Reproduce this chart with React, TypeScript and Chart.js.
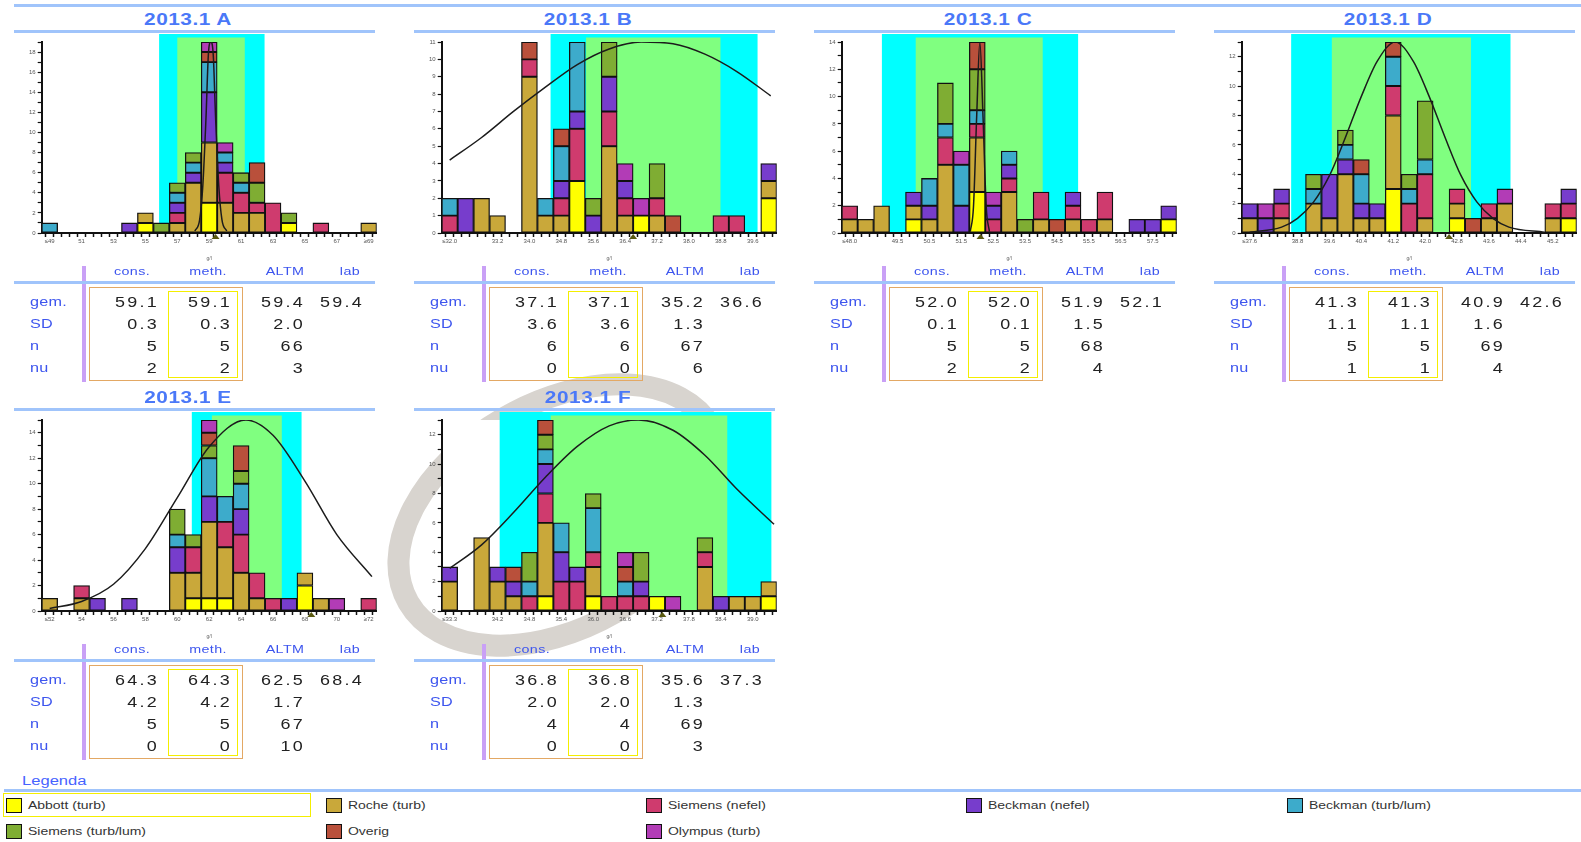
import React, { useEffect, useRef } from 'react';
import { Chart, registerables } from 'chart.js';
Chart.register(...registerables);
Chart.defaults.font.family = '"Liberation Sans", Arial, sans-serif';

// ---------- legend / series ----------
const SERIES_NAMES = ['Abbott (turb)', 'Roche (turb)', 'Siemens (nefel)', 'Beckman (nefel)', 'Beckman (turb/lum)', 'Siemens (turb/lum)', 'Overig', 'Olympus (turb)'];
const SERIES_COLORS = ['#ffff00', '#c9a83a', '#cf3b6e', '#773dcc', '#3dabcb', '#7fad33', '#b9503b', '#b23cb6'];

const STAT_COLS = ['cons.', 'meth.', 'ALTM', 'lab'];
const STAT_ROWS = ['gem.', 'SD', 'n', 'nu'];

// ---------- Panel A ----------
const binsA = [49, 50, 51, 52, 53, 54, 55, 56, 57, 58, 59, 60, 61, 62, 63, 64, 65, 66, 67, 68, 69];
const countsA = [
  [0, 0, 0, 0, 0, 0, 1, 0, 0, 0, 3, 0, 0, 0, 0, 1, 0, 0, 0, 0, 0],
  [0, 0, 0, 0, 0, 0, 1, 0, 1, 5, 6, 3, 2, 2, 0, 0, 0, 0, 0, 0, 1],
  [0, 0, 0, 0, 0, 0, 0, 0, 1, 0, 0, 3, 2, 1, 3, 0, 0, 1, 0, 0, 0],
  [0, 0, 0, 0, 0, 1, 0, 0, 1, 1, 5, 1, 0, 0, 0, 0, 0, 0, 0, 0, 0],
  [1, 0, 0, 0, 0, 0, 0, 0, 1, 1, 3, 1, 1, 0, 0, 0, 0, 0, 0, 0, 0],
  [0, 0, 0, 0, 0, 0, 0, 1, 1, 1, 0, 0, 1, 2, 0, 1, 0, 0, 0, 0, 0],
  [0, 0, 0, 0, 0, 0, 0, 0, 0, 0, 1, 0, 0, 2, 0, 0, 0, 0, 0, 0, 0],
  [0, 0, 0, 0, 0, 0, 0, 0, 0, 0, 1, 1, 0, 0, 0, 0, 0, 0, 0, 0, 0],
];
const curveXA = [58.1, 58.4, 58.6, 58.8, 58.95, 59.1, 59.25, 59.4, 59.6, 59.8, 60.1];
const curveYA = [0.2, 1.3, 4.7, 11.5, 17.8, 19, 17.8, 11.5, 4.7, 1.3, 0.2];
const bandsA = [55.86, 62.47, 57.0, 61.23];
const xLabelValsA = [49, 51, 53, 55, 57, 59, 61, 63, 65, 67, 69];
const xLabelTextA = ['≤49', '51', '53', '55', '57', '59', '61', '63', '65', '67', '≥69'];
const gemA = ['59.1', '59.1', '59.4', '59.4'];
const sdA = ['0.3', '0.3', '2.0', ''];
const nA = ['5', '5', '66', ''];
const nuA = ['2', '2', '3', ''];

// ---------- Panel B ----------
const binsB = [32.0, 32.4, 32.8, 33.2, 33.6, 34.0, 34.4, 34.8, 35.2, 35.6, 36.0, 36.4, 36.8, 37.2, 37.6, 38.0, 38.4, 38.8, 39.2, 39.6, 40.0];
const countsB = [
  [0, 0, 0, 0, 0, 0, 0, 0, 3, 0, 0, 0, 1, 0, 0, 0, 0, 0, 0, 0, 2],
  [0, 0, 2, 1, 0, 9, 1, 1, 0, 0, 5, 1, 0, 1, 0, 0, 0, 0, 0, 0, 1],
  [1, 0, 0, 0, 0, 1, 0, 1, 3, 0, 2, 1, 0, 1, 0, 0, 0, 1, 1, 0, 0],
  [0, 2, 0, 0, 0, 0, 0, 1, 1, 1, 2, 1, 0, 0, 0, 0, 0, 0, 0, 0, 1],
  [1, 0, 0, 0, 0, 0, 1, 2, 4, 0, 0, 0, 0, 0, 0, 0, 0, 0, 0, 0, 0],
  [0, 0, 0, 0, 0, 0, 0, 0, 0, 1, 2, 0, 0, 2, 0, 0, 0, 0, 0, 0, 0],
  [0, 0, 0, 0, 0, 1, 0, 1, 0, 0, 0, 0, 0, 0, 1, 0, 0, 0, 0, 0, 0],
  [0, 0, 0, 0, 0, 0, 0, 0, 0, 0, 0, 1, 1, 0, 0, 0, 0, 0, 0, 0, 0],
];
const curveXB = [32.0, 32.8, 33.6, 34.4, 35.2, 36.0, 36.8, 37.6, 38.4, 39.2, 40.05];
const curveYB = [4.2, 5.5, 7.0, 8.4, 9.7, 10.6, 11.0, 10.9, 10.3, 9.3, 7.9];
const bandsB = [34.53, 39.72, 35.42, 38.79];
const xLabelValsB = [32.0, 33.2, 34.0, 34.8, 35.6, 36.4, 37.2, 38.0, 38.8, 39.6];
const xLabelTextB = ['≤32.0', '33.2', '34.0', '34.8', '35.6', '36.4', '37.2', '38.0', '38.8', '39.6'];
const gemB = ['37.1', '37.1', '35.2', '36.6'];
const sdB = ['3.6', '3.6', '1.3', ''];
const nB = ['6', '6', '67', ''];
const nuB = ['0', '0', '6', ''];

// ---------- Panel C ----------
const binsC = [48.0, 48.5, 49.0, 49.5, 50.0, 50.5, 51.0, 51.5, 52.0, 52.5, 53.0, 53.5, 54.0, 54.5, 55.0, 55.5, 56.0, 56.5, 57.0, 57.5, 58.0];
const countsC = [
  [0, 0, 0, 0, 1, 0, 0, 0, 3, 0, 0, 0, 0, 0, 0, 0, 0, 0, 0, 0, 1],
  [1, 1, 2, 0, 1, 1, 5, 0, 4, 0, 3, 0, 1, 0, 1, 0, 1, 0, 0, 0, 0],
  [1, 0, 0, 0, 0, 0, 2, 0, 1, 1, 1, 0, 2, 0, 1, 1, 2, 0, 0, 0, 0],
  [0, 0, 0, 0, 1, 1, 0, 2, 0, 1, 1, 0, 0, 0, 1, 0, 0, 0, 1, 1, 1],
  [0, 0, 0, 0, 0, 2, 1, 3, 1, 0, 1, 0, 0, 0, 0, 0, 0, 0, 0, 0, 0],
  [0, 0, 0, 0, 0, 0, 3, 0, 3, 0, 0, 1, 0, 0, 0, 0, 0, 0, 0, 0, 0],
  [0, 0, 0, 0, 0, 0, 0, 0, 2, 0, 0, 0, 0, 1, 0, 0, 0, 0, 0, 0, 0],
  [0, 0, 0, 0, 0, 0, 0, 1, 0, 1, 0, 0, 0, 0, 0, 0, 0, 0, 0, 0, 0],
];
const curveXC = [51.78, 51.88, 51.98, 52.08, 52.18, 52.28, 52.38];
const curveYC = [0.1, 1.9, 8.5, 14, 8.5, 1.9, 0.1];
const bandsC = [49.01, 55.16, 50.07, 54.05];
const xLabelValsC = [48.0, 49.5, 50.5, 51.5, 52.5, 53.5, 54.5, 55.5, 56.5, 57.5];
const xLabelTextC = ['≤48.0', '49.5', '50.5', '51.5', '52.5', '53.5', '54.5', '55.5', '56.5', '57.5'];
const gemC = ['52.0', '52.0', '51.9', '52.1'];
const sdC = ['0.1', '0.1', '1.5', ''];
const nC = ['5', '5', '68', ''];
const nuC = ['2', '2', '4', ''];

// ---------- Panel D ----------
const binsD = [37.6, 38.0, 38.4, 38.8, 39.2, 39.6, 40.0, 40.4, 40.8, 41.2, 41.6, 42.0, 42.4, 42.8, 43.2, 43.6, 44.0, 44.4, 44.8, 45.2, 45.6];
const countsD = [
  [0, 0, 0, 0, 0, 0, 0, 0, 0, 3, 0, 0, 0, 1, 0, 0, 0, 0, 0, 0, 1],
  [1, 0, 1, 0, 2, 1, 4, 1, 1, 5, 0, 1, 0, 1, 0, 1, 2, 0, 0, 1, 0],
  [0, 0, 1, 0, 0, 0, 0, 0, 0, 2, 2, 3, 0, 1, 0, 1, 0, 0, 0, 1, 1],
  [1, 1, 1, 0, 0, 3, 1, 1, 1, 0, 0, 0, 0, 0, 0, 0, 0, 0, 0, 0, 1],
  [0, 0, 0, 0, 1, 0, 1, 2, 0, 2, 1, 1, 0, 0, 0, 0, 0, 0, 0, 0, 0],
  [0, 0, 0, 0, 1, 0, 1, 0, 0, 0, 1, 4, 0, 0, 0, 0, 0, 0, 0, 0, 0],
  [0, 0, 0, 0, 0, 0, 0, 1, 0, 1, 0, 0, 0, 0, 1, 0, 0, 0, 0, 0, 0],
  [0, 1, 0, 0, 0, 0, 0, 0, 0, 0, 0, 0, 0, 0, 0, 0, 1, 0, 0, 0, 0],
];
const curveXD = [37.6, 38.4, 38.8, 39.2, 39.6, 40.0, 40.4, 40.8, 41.25, 41.7, 42.1, 42.5, 42.9, 43.3, 43.7, 44.1, 45.0];
const curveYD = [0.05, 0.4, 1.0, 2.1, 3.9, 6.5, 9.3, 11.7, 13, 11.7, 9.3, 6.5, 3.9, 2.1, 1.0, 0.4, 0.05];
const bandsD = [38.64, 44.14, 39.66, 43.15];
const xLabelValsD = [37.6, 38.8, 39.6, 40.4, 41.2, 42.0, 42.8, 43.6, 44.4, 45.2];
const xLabelTextD = ['≤37.6', '38.8', '39.6', '40.4', '41.2', '42.0', '42.8', '43.6', '44.4', '45.2'];
const gemD = ['41.3', '41.3', '40.9', '42.6'];
const sdD = ['1.1', '1.1', '1.6', ''];
const nD = ['5', '5', '69', ''];
const nuD = ['1', '1', '4', ''];

// ---------- Panel E ----------
const binsE = [52, 53, 54, 55, 56, 57, 58, 59, 60, 61, 62, 63, 64, 65, 66, 67, 68, 69, 70, 71, 72];
const countsE = [
  [0, 0, 0, 0, 0, 0, 0, 0, 0, 1, 1, 1, 0, 0, 0, 0, 2, 0, 0, 0, 0],
  [1, 0, 1, 0, 0, 0, 0, 0, 3, 2, 6, 4, 3, 1, 0, 0, 1, 1, 0, 0, 0],
  [0, 0, 1, 0, 0, 0, 0, 0, 0, 2, 0, 2, 3, 2, 1, 0, 0, 0, 0, 0, 1],
  [0, 0, 0, 1, 0, 1, 0, 0, 2, 0, 2, 0, 2, 0, 0, 1, 0, 0, 0, 0, 0],
  [0, 0, 0, 0, 0, 0, 0, 0, 1, 0, 3, 2, 2, 0, 0, 0, 0, 0, 0, 0, 0],
  [0, 0, 0, 0, 0, 0, 0, 0, 2, 1, 1, 0, 1, 0, 0, 0, 0, 0, 0, 0, 0],
  [0, 0, 0, 0, 0, 0, 0, 0, 0, 0, 1, 0, 2, 0, 0, 0, 0, 0, 0, 0, 0],
  [0, 0, 0, 0, 0, 0, 0, 0, 0, 0, 1, 0, 0, 0, 0, 0, 0, 0, 1, 0, 0],
];
const curveXE = [52.0, 54, 56, 58, 60, 62, 64.3, 66, 68, 70, 72.2];
const curveYE = [0.2, 0.75, 2.1, 4.9, 8.9, 12.9, 15, 13.8, 10.2, 6.0, 2.7];
const bandsE = [60.91, 67.79, 62.17, 66.55];
const xLabelValsE = [52, 54, 56, 58, 60, 62, 64, 66, 68, 70, 72];
const xLabelTextE = ['≤52', '54', '56', '58', '60', '62', '64', '66', '68', '70', '≥72'];
const gemE = ['64.3', '64.3', '62.5', '68.4'];
const sdE = ['4.2', '4.2', '1.7', ''];
const nE = ['5', '5', '67', ''];
const nuE = ['0', '0', '10', ''];

// ---------- Panel F ----------
const binsF = [33.3, 33.6, 33.9, 34.2, 34.5, 34.8, 35.1, 35.4, 35.7, 36.0, 36.3, 36.6, 36.9, 37.2, 37.5, 37.8, 38.1, 38.4, 38.7, 39.0, 39.3];
const countsF = [
  [0, 0, 0, 0, 0, 0, 1, 0, 0, 1, 0, 0, 0, 1, 0, 0, 0, 0, 0, 0, 1],
  [2, 0, 5, 2, 1, 0, 5, 0, 0, 2, 0, 0, 0, 0, 0, 0, 3, 0, 1, 1, 1],
  [0, 0, 0, 0, 0, 1, 2, 2, 2, 1, 1, 1, 1, 0, 0, 0, 1, 0, 0, 0, 0],
  [1, 0, 0, 1, 1, 0, 2, 2, 1, 0, 0, 0, 1, 0, 0, 0, 0, 1, 0, 0, 0],
  [0, 0, 0, 0, 0, 1, 1, 2, 0, 3, 0, 1, 0, 0, 0, 0, 0, 0, 0, 0, 0],
  [0, 0, 0, 0, 0, 2, 1, 0, 0, 1, 0, 0, 2, 0, 0, 0, 1, 0, 0, 0, 0],
  [0, 0, 0, 0, 1, 0, 1, 0, 0, 0, 0, 1, 0, 0, 0, 0, 0, 0, 0, 0, 0],
  [0, 0, 0, 0, 0, 0, 0, 0, 0, 0, 0, 1, 0, 0, 1, 0, 0, 0, 0, 0, 0],
];
const curveXF = [33.3, 33.9, 34.5, 35.1, 35.7, 36.3, 36.85, 37.5, 38.1, 38.7, 39.4];
const curveYF = [2.9, 4.5, 6.7, 9.1, 11.2, 12.6, 13, 12.3, 10.6, 8.3, 5.9];
const bandsF = [34.24, 39.35, 35.2, 38.52];
const xLabelValsF = [33.3, 34.2, 34.8, 35.4, 36.0, 36.6, 37.2, 37.8, 38.4, 39.0];
const xLabelTextF = ['≤33.3', '34.2', '34.8', '35.4', '36.0', '36.6', '37.2', '37.8', '38.4', '39.0'];
const gemF = ['36.8', '36.8', '35.6', '37.3'];
const sdF = ['2.0', '2.0', '1.3', ''];
const nF = ['4', '4', '69', ''];
const nuF = ['0', '0', '3', ''];

type Panel = {
  title: string; col: number; row: number; bins: number[]; counts: number[][];
  cx: number[]; cy: number[]; bands: number[]; lv: number[]; lt: string[];
  yLabelStep: number; stats: string[][];
};

const PANELS: Panel[] = [
  { title: '2013.1 A', col: 0, row: 0, bins: binsA, counts: countsA, cx: curveXA, cy: curveYA, bands: bandsA, lv: xLabelValsA, lt: xLabelTextA, yLabelStep: 2, stats: [gemA, sdA, nA, nuA] },
  { title: '2013.1 B', col: 1, row: 0, bins: binsB, counts: countsB, cx: curveXB, cy: curveYB, bands: bandsB, lv: xLabelValsB, lt: xLabelTextB, yLabelStep: 1, stats: [gemB, sdB, nB, nuB] },
  { title: '2013.1 C', col: 2, row: 0, bins: binsC, counts: countsC, cx: curveXC, cy: curveYC, bands: bandsC, lv: xLabelValsC, lt: xLabelTextC, yLabelStep: 2, stats: [gemC, sdC, nC, nuC] },
  { title: '2013.1 D', col: 3, row: 0, bins: binsD, counts: countsD, cx: curveXD, cy: curveYD, bands: bandsD, lv: xLabelValsD, lt: xLabelTextD, yLabelStep: 2, stats: [gemD, sdD, nD, nuD] },
  { title: '2013.1 E', col: 0, row: 1, bins: binsE, counts: countsE, cx: curveXE, cy: curveYE, bands: bandsE, lv: xLabelValsE, lt: xLabelTextE, yLabelStep: 2, stats: [gemE, sdE, nE, nuE] },
  { title: '2013.1 F', col: 1, row: 1, bins: binsF, counts: countsF, cx: curveXF, cy: curveYF, bands: bandsF, lv: xLabelValsF, lt: xLabelTextF, yLabelStep: 2, stats: [gemF, sdF, nF, nuF] },
];

const FONT = '"Liberation Sans", Arial, sans-serif';
const LINE_BLUE = '#a0c4fb';
const TEXT_BLUE = '#3d55ee';

function Txt(props: { x: number; y: number; a?: 'l' | 'c' | 'r'; size: number; color: string; sx?: number; ls?: number; bold?: boolean; children: any }) {
  const { x, y, a = 'l', size, color, sx = 1, ls = 0, bold = false, children } = props;
  const tx = a === 'l' ? '0' : a === 'c' ? '-50%' : '-100%';
  const origin = a === 'l' ? 'left' : a === 'c' ? 'center' : 'right';
  const shift = a === 'r' ? ls * sx : a === 'c' ? (ls * sx) / 2 : 0;
  return (
    <div
      style={{
        position: 'absolute', left: x + shift, top: y, fontSize: size, color, letterSpacing: ls,
        fontWeight: bold ? 700 : 400, whiteSpace: 'nowrap', lineHeight: 1, fontFamily: FONT,
        transform: `translate(${tx}, -50%) scaleX(${sx})`, transformOrigin: `${origin} center`,
      }}
    >
      {children}
    </div>
  );
}

function Rect(props: { x: number; y: number; w: number; h: number; bg?: string; border?: string }) {
  const { x, y, w, h, bg, border } = props;
  return <div style={{ position: 'absolute', left: x, top: y, width: w, height: h, background: bg, border, boxSizing: 'border-box' }} />;
}

function HistChart({ p }: { p: Panel }) {
  const ref = useRef<HTMLCanvasElement>(null);
  const x0 = p.col * 400;
  const y0 = p.row * 378;
  useEffect(() => {
    const w = p.bins[1] - p.bins[0];
    const tickVals: number[] = [];
    p.bins.forEach((b) => { tickVals.push(b - w / 2, b); });
    tickVals.push(p.bins[p.bins.length - 1] + w / 2);
    const sums = p.bins.map((_, i) => p.counts.reduce((s, arr) => s + arr[i], 0));
    const yMax = Math.max(...sums);
    const labValue = parseFloat(p.stats[0][3]);

    const bandPlugin = {
      id: 'bands',
      beforeDraw(chart: any) {
        const { ctx, chartArea, scales } = chart;
        const xs = scales.x;
        ctx.save();
        ctx.fillStyle = '#ffffff';
        ctx.fillRect(chartArea.left, chartArea.top, chartArea.right - chartArea.left, chartArea.bottom - chartArea.top);
        const a1 = xs.getPixelForValue(p.bands[0]);
        const a2 = xs.getPixelForValue(p.bands[1]);
        ctx.fillStyle = '#00ffff';
        ctx.fillRect(a1, chartArea.top - 8, a2 - a1, chartArea.bottom - chartArea.top + 8);
        const g1 = xs.getPixelForValue(p.bands[2]);
        const g2 = xs.getPixelForValue(p.bands[3]);
        ctx.fillStyle = '#80ff80';
        ctx.fillRect(g1, chartArea.top - 4.5, g2 - g1, chartArea.bottom - chartArea.top + 4.5);
        ctx.restore();
      },
    };
    const markerPlugin = {
      id: 'labMarker',
      afterDraw(chart: any) {
        const { ctx, chartArea, scales } = chart;
        const px = scales.x.getPixelForValue(labValue);
        const yb = chartArea.bottom + 1;
        ctx.save();
        ctx.fillStyle = '#5a5a10';
        ctx.beginPath();
        ctx.moveTo(px - 4, yb + 5);
        ctx.lineTo(px + 4, yb + 5);
        ctx.lineTo(px, yb);
        ctx.closePath();
        ctx.fill();
        ctx.restore();
      },
    };

    const datasets: any[] = SERIES_NAMES.map((name, i) => ({
      type: 'bar',
      label: name,
      data: p.counts[i],
      backgroundColor: SERIES_COLORS[i],
      borderColor: '#111',
      borderWidth: 1.3,
      borderSkipped: false,
      barThickness: 'flex',
      categoryPercentage: 1,
      barPercentage: 1,
      stack: 'hist',
      order: 2,
    }));
    datasets.push({
      type: 'line',
      label: 'curve',
      data: p.cx.map((x, i) => ({ x, y: p.cy[i] })),
      borderColor: '#1c1c1c',
      borderWidth: 1.5,
      pointRadius: 0,
      cubicInterpolationMode: 'monotone',
      fill: false,
      stack: 'curve',
      order: 0,
    });

    const chart = new Chart(ref.current as HTMLCanvasElement, {
      type: 'bar',
      data: { labels: p.bins as any, datasets },
      options: {
        animation: false,
        responsive: false,
        events: [],
        layout: { padding: { left: 11.7, top: 12, right: 15.3, bottom: 3 } },
        plugins: { legend: { display: false }, tooltip: { enabled: false }, title: { display: false } },
        scales: {
          x: {
            type: 'linear',
            min: p.bins[0] - w / 2,
            max: p.bins[p.bins.length - 1] + w / 2,
            stacked: true,
            offset: false,
            afterBuildTicks: (s: any) => { s.ticks = tickVals.map((v) => ({ value: v })); },
            afterFit: (s: any) => { s.height = 29; },
            ticks: {
              autoSkip: false, maxRotation: 0, minRotation: 0, padding: 1,
              font: { size: 6 }, color: '#555',
              callback: (v: any) => {
                const i = p.lv.findIndex((l) => Math.abs(l - Number(v)) < 1e-6);
                return i >= 0 ? p.lt[i] : '';
              },
            },
            grid: { drawOnChartArea: false, drawTicks: true, tickLength: 4, tickWidth: 1.5, color: '#111' },
            border: { color: '#111', width: 2 },
            title: { display: true, text: 'g/l', font: { size: 5 }, color: '#666', padding: { top: 0, bottom: 0 } },
          },
          y: {
            type: 'linear', min: 0, max: yMax, stacked: true,
            afterFit: (s: any) => { s.width = 30; },
            ticks: {
              stepSize: 1, autoSkip: false, font: { size: 6 }, color: '#555', padding: 2,
              callback: (v: any) => (Number(v) % p.yLabelStep === 0 ? String(v) : ''),
            },
            grid: { drawOnChartArea: false, tickLength: 4, tickWidth: 1.2, color: '#111' },
            border: { color: '#111', width: 2 },
          },
        },
      } as any,
      plugins: [bandPlugin, markerPlugin],
    });
    return () => chart.destroy();
  }, []);
  return <canvas ref={ref} width={392} height={235} style={{ position: 'absolute', left: x0, top: y0 + 30, width: 392, height: 235 }} />;
}

const HEAD_X = [132, 208, 285, 350];
const VAL_RIGHT = [157, 230, 303, 362];
const ROW_Y = [302, 324, 346, 368];

function PanelView({ p }: { p: Panel }) {
  const x0 = p.col * 400;
  const y0 = p.row * 378;
  return (
    <>
      <Txt x={x0 + 188} y={y0 + 20} a="c" size={16} color="#4a78f8" sx={1.3} ls={0.4} bold>{p.title}</Txt>
      <Rect x={x0 + 14} y={y0 + 29.5} w={361} h={3} bg={LINE_BLUE} />
      <HistChart p={p} />
      <Rect x={x0 + 82} y={y0 + 266} w={4} h={116} bg="#c9a0f6" />
      {STAT_COLS.map((c, i) => (
        <Txt key={c} x={x0 + HEAD_X[i]} y={y0 + 271} a="c" size={11} color={TEXT_BLUE} sx={1.3} ls={0.3}>{c}</Txt>
      ))}
      <Rect x={x0 + 14} y={y0 + 281} w={361} h={3} bg={LINE_BLUE} />
      <Rect x={x0 + 89} y={y0 + 287} w={154} h={94} border="1.5px solid #e3a864" />
      <Rect x={x0 + 168} y={y0 + 291} w={70} h={87} border="1.5px solid #f4ee00" />
      {STAT_ROWS.map((r, ri) => (
        <React.Fragment key={r}>
          <Txt x={x0 + 30} y={y0 + ROW_Y[ri]} size={12} color={TEXT_BLUE} sx={1.35} ls={0.2}>{r}</Txt>
          {p.stats[ri].map((v, ci) => (v ? (
            <Txt key={ci} x={x0 + VAL_RIGHT[ci]} y={y0 + ROW_Y[ri]} a="r" size={14} color="#222" sx={1.28} ls={1.8}>{v}</Txt>
          ) : null))}
        </React.Fragment>
      ))}
    </>
  );
}

const LEGEND_COL_X = [6, 326, 646, 966, 1287];
const LEGEND_ROW_Y = [805, 831];

export default function App() {
  return (
    <div style={{ position: 'fixed', left: 0, top: 0, width: 1581, height: 842, overflow: 'hidden', background: '#fff', fontFamily: FONT }}>
      <svg width={1581} height={842} style={{ position: 'absolute', left: 0, top: 0 }}>
        <ellipse cx={560} cy={515} rx={175} ry={112} transform="rotate(-30 560 515)" fill="none" stroke="#d8d4cf" strokeWidth={22} />
      </svg>
      <Rect x={14} y={3.5} w={1567} h={3} bg={LINE_BLUE} />
      {PANELS.map((p) => <PanelView key={p.title} p={p} />)}
      <Txt x={22} y={781} size={12} color="#4763ff" sx={1.38}>Legenda</Txt>
      <Rect x={4} y={788.5} w={1577} h={3} bg={LINE_BLUE} />
      <Rect x={3} y={793} w={308} h={24} border="1.5px solid #f4ee00" />
      {SERIES_NAMES.map((name, i) => {
        const cx = LEGEND_COL_X[i % 5];
        const cy = LEGEND_ROW_Y[Math.floor(i / 5)];
        return (
          <React.Fragment key={name}>
            <Rect x={cx} y={cy - 7.5} w={16} h={15} bg={SERIES_COLORS[i]} border="1.5px solid #111" />
            <Txt x={cx + 22} y={cy} size={10.5} color="#333" sx={1.33}>{name}</Txt>
          </React.Fragment>
        );
      })}
    </div>
  );
}
